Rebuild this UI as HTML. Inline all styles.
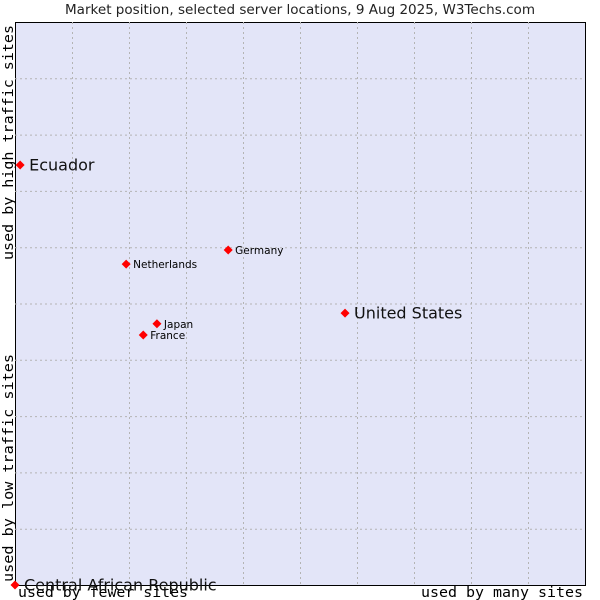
<!DOCTYPE html>
<html><head><meta charset="utf-8"><style>
body{margin:0;background:#fff;width:600px;height:600px;overflow:hidden}
svg{display:block}
</style></head><body>
<svg id="chart" width="600" height="600" xmlns="http://www.w3.org/2000/svg">
<text x="300" y="14" text-anchor="middle" font-family="'DejaVu Sans',sans-serif" font-size="13.3" fill="#222" textLength="470" lengthAdjust="spacingAndGlyphs">Market position, selected server locations, 9 Aug 2025, W3Techs.com</text>
<rect x="15.5" y="22.5" width="570" height="563" fill="#e3e5f8" stroke="#000" stroke-width="1"/>
<g id="grid"></g>
<text transform="translate(13,260) rotate(-90)" font-family="'DejaVu Sans Mono','Liberation Mono',monospace" font-size="14.5" fill="#000" textLength="235" lengthAdjust="spacingAndGlyphs">used by high traffic sites</text>
<text transform="translate(13,582) rotate(-90)" font-family="'DejaVu Sans Mono','Liberation Mono',monospace" font-size="14.5" fill="#000" textLength="228" lengthAdjust="spacingAndGlyphs">used by low traffic sites</text>
<text x="18" y="597" font-family="'DejaVu Sans Mono','Liberation Mono',monospace" font-size="14.5" fill="#000" textLength="170" lengthAdjust="spacingAndGlyphs">used by fewer sites</text>
<text x="421" y="597" font-family="'DejaVu Sans Mono','Liberation Mono',monospace" font-size="14.5" fill="#000" textLength="162" lengthAdjust="spacingAndGlyphs">used by many sites</text>
<g id="points"></g>
</svg>
<script>
const countries=["Ecuador","Central African Republic","United States","Germany","Netherlands","Japan","France"];
const xValues=[0.9,0,57.9,37.4,19.5,24.9,22.5];
const yValues=[74.6,0,48.3,59.5,57.0,46.4,44.4];
const bigLabel=[true,true,true,false,false,false,false];
const NS="http://www.w3.org/2000/svg";
const L=15,T=22,W=570,H=563;
const sx=v=>L+v/100*W, sy=v=>T+H-v/100*H;
const grid=document.getElementById('grid');
for(let i=1;i<10;i++){
  const a=document.createElementNS(NS,'line');
  
  
  a.setAttribute('x1',sx(i*10)+0.5);a.setAttribute('x2',sx(i*10)+0.5);a.setAttribute('y1',T);a.setAttribute('y2',T+H);
  a.setAttribute('stroke','#b4b4b4');a.setAttribute('stroke-dasharray','2,3');grid.appendChild(a);
  const b=document.createElementNS(NS,'line');
  
  
  b.setAttribute('y1',sy(i*10)+0.5);b.setAttribute('y2',sy(i*10)+0.5);b.setAttribute('x1',L);b.setAttribute('x2',L+W);
  b.setAttribute('stroke','#b4b4b4');b.setAttribute('stroke-dasharray','2,3');grid.appendChild(b);
}
const pts=document.getElementById('points');
countries.forEach((c,i)=>{
  const x=sx(xValues[i]),y=sy(yValues[i]);
  const d=document.createElementNS(NS,'polygon');
  
  
  d.setAttribute('points',`${x},${y-4.5} ${x+4.5},${y} ${x},${y+4.5} ${x-4.5},${y}`);
  d.setAttribute('fill','#f00');pts.appendChild(d);
  const t=document.createElementNS(NS,'text');
  
  
  t.setAttribute('x',x+(bigLabel[i]?9:7));t.setAttribute('y',y+(bigLabel[i]?5.5:4));
  t.setAttribute('font-family',"'DejaVu Sans',sans-serif");
  t.setAttribute('font-size',bigLabel[i]?'16':'10.5');
  t.setAttribute('fill',bigLabel[i]?'#111':'#000');
  t.textContent=c;pts.appendChild(t);
});
</script>
</body></html>
